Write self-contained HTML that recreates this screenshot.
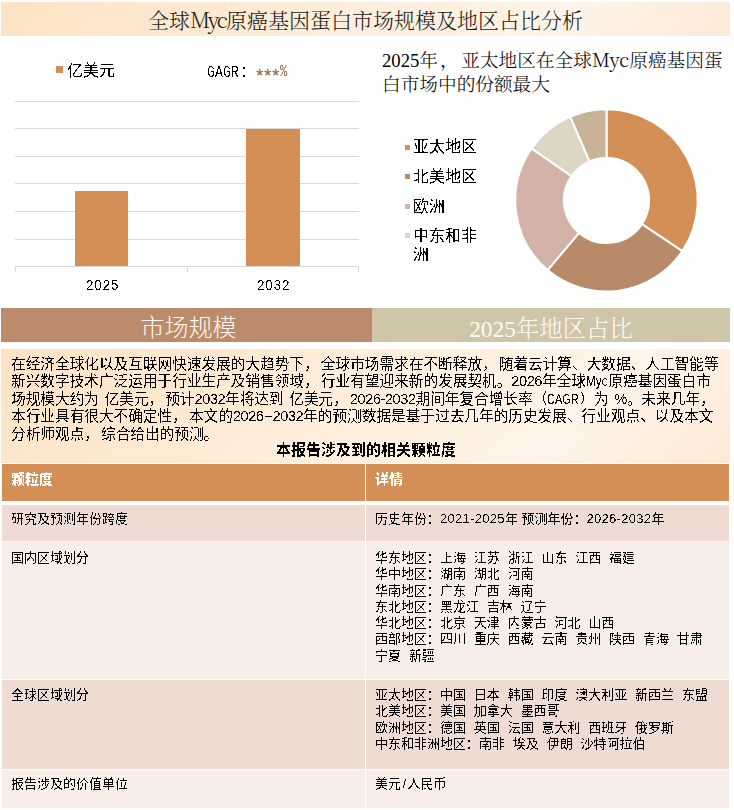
<!DOCTYPE html>
<html lang="zh-CN">
<head>
<meta charset="utf-8">
<title>全球Myc原癌基因蛋白市场规模及地区占比分析</title>
<style>
*{margin:0;padding:0;box-sizing:border-box}
html,body{width:734px;height:810px;overflow:hidden;background:#fff}
body{position:relative;font-family:"Liberation Sans","Noto Sans CJK SC",sans-serif;color:#000}
.abs{position:absolute;white-space:nowrap}
.serif{font-family:"Liberation Serif","Noto Serif CJK SC",serif;font-weight:300}
.sans{font-family:"Liberation Sans","Noto Sans CJK SC",sans-serif}
#title{left:1px;top:2px;width:729px;height:34px;background:linear-gradient(135deg,#fde3c4 0%,#fef4e9 76%,#fde9d7 100%)}
#title span{position:absolute;left:0;right:0;top:2px;text-align:center;font-size:21px;line-height:34px;color:#1a1a1a}
.grid{position:absolute;left:15px;width:344px;height:1px;background:#d9d9d9}
.bar{position:absolute;background:#d48f57}
.tick{position:absolute;top:266px;width:1px;height:6px;background:#d9d9d9}
.ax{top:275.5px;font-family:"Liberation Sans",sans-serif;font-size:15.5px;line-height:18px;letter-spacing:1.1px;transform:scaleX(.86);transform-origin:0 0;filter:url(#crisp)}
.lg{position:absolute;width:5px;height:5px}
.lt{filter:url(#crisp);position:absolute;left:413px;font-size:16px;line-height:19px;color:#000}
.sec{position:absolute;top:308px;height:34px;color:#fffaf2;text-align:center}
#para{position:absolute;left:1px;top:349px;width:729px;height:114px;background:linear-gradient(135deg,#fde3c4 0%,#fef4e9 76%,#fde9d7 100%)}
#para p{filter:url(#crisp);position:absolute;left:10px;top:7px;word-spacing:1.5px;font-family:"Liberation Sans","Noto Sans CJK SC",sans-serif;font-size:14.67px;line-height:17.4px;white-space:nowrap;color:#000}
.cm{letter-spacing:2px}
.n{letter-spacing:-0.5px}
.sq{display:inline-block;white-space:nowrap;vertical-align:top}
.sq>span{display:inline-block;transform-origin:0 0}
#cap{filter:url(#crisp);position:absolute;left:276px;top:440px;font-size:15px;font-weight:bold;line-height:20px}
.row{position:absolute;left:2px;width:727px}
.c1,.c2{position:absolute;top:0;bottom:0;filter:url(#crisp);font-size:13px;line-height:16.25px;white-space:pre}
.g{display:inline-block;width:7.8px}
.c1{left:0;width:363px;padding-left:9px}
.c2{left:364px;right:0;padding-left:9px}
</style>
</head>
<body>
<svg width="0" height="0" style="position:absolute"><filter id="crisp" x="0" y="0" width="100%" height="100%"><feComponentTransfer><feFuncA type="discrete" tableValues="0 1"/></feComponentTransfer></filter></svg>
<div id="title" class="abs"><span class="serif">全球<i style="font-style:normal;font-family:'Noto Serif CJK SC',serif;letter-spacing:-2px;line-height:1">Myc</i>原癌基因蛋白市场规模及地区占比分析</span></div>

<!-- bar chart -->
<div class="abs" style="left:56px;top:66px;width:7px;height:7px;background:#d48f57"></div>
<div class="abs sans" style="left:67px;top:60px;font-size:16px;line-height:22px;filter:url(#crisp)">亿美元</div>
<div class="abs" style="left:207px;top:63px;font-family:'Liberation Mono',monospace;font-size:16px;line-height:20px;transform:scaleX(.83);transform-origin:0 0;filter:url(#crisp)">GAGR</div>
<div class="abs sans" style="left:240px;top:61px;font-size:16px;line-height:22px;font-weight:300;filter:url(#crisp)">：</div>
<div class="abs sans" style="left:256px;top:63px;font-size:19px;line-height:20px;color:#8f5c33;letter-spacing:0.6px"><span style="position:relative;top:3px">***</span><span style="display:inline-block;font-family:'Liberation Mono',monospace;font-size:16px;transform:scaleX(.75);transform-origin:0 0;vertical-align:top;margin-top:-1px">%</span></div>

<div class="grid" style="top:101px"></div>
<div class="grid" style="top:128px"></div>
<div class="grid" style="top:156px"></div>
<div class="grid" style="top:183px"></div>
<div class="grid" style="top:211px"></div>
<div class="grid" style="top:239px"></div>
<div class="bar" style="left:75px;top:191px;width:53px;height:75px"></div>
<div class="bar" style="left:246px;top:129px;width:54px;height:137px"></div>
<div class="grid" style="top:266px"></div>
<div class="tick" style="left:15px"></div>
<div class="tick" style="left:187px"></div>
<div class="tick" style="left:358px"></div>
<div class="abs ax" style="left:86px">2025</div>
<div class="abs ax" style="left:257px">2032</div>

<!-- right chart -->
<div class="abs serif" style="left:382px;top:49px;font-size:18.67px;line-height:24px">2025年<span style="position:relative;left:2px">，</span> 亚太地区在全球<i style="font-style:normal;font-family:'Noto Serif CJK SC',serif;line-height:1">Myc</i>原癌基因蛋<br>白市场中的份额最大</div>

<div class="lg" style="left:405px;top:145px;background:#d48f57"></div>
<div class="lt" style="top:137px">亚太地区</div>
<div class="lg" style="left:405px;top:174px;background:#b98a69"></div>
<div class="lt" style="top:167px">北美地区</div>
<div class="lg" style="left:405px;top:204px;background:#d3b3a7"></div>
<div class="lt" style="top:197px">欧洲</div>
<div class="lg" style="left:405px;top:233px;background:#ded6c4"></div>
<div class="lt" style="top:226px">中东和非<br>洲</div>

<svg class="abs" style="left:0;top:0" width="734" height="810" viewBox="0 0 734 810">
<g stroke="#fff" stroke-width="2" stroke-linejoin="round">
<path fill="#d48f57" d="M606.50 109.20A91.2 91.2 0 0 1 682.29 251.13L641.90 224.10A42.6 42.6 0 0 0 606.50 157.80Z"/>
<path fill="#b98a69" d="M682.29 251.13A91.2 91.2 0 0 1 547.63 270.06L579.00 232.94A42.6 42.6 0 0 0 641.90 224.10Z"/>
<path fill="#d3b3a7" d="M547.63 270.06A91.2 91.2 0 0 1 531.61 148.35L571.52 176.09A42.6 42.6 0 0 0 579.00 232.94Z"/>
<path fill="#ded6c4" d="M531.61 148.35A91.2 91.2 0 0 1 570.28 116.70L589.58 161.30A42.6 42.6 0 0 0 571.52 176.09Z"/>
<path fill="#c8b397" d="M570.28 116.70A91.2 91.2 0 0 1 606.50 109.20L606.50 157.80A42.6 42.6 0 0 0 589.58 161.30Z"/>
</g>
</svg>

<!-- section headers -->
<div class="sec sans" style="left:1px;width:371px;background:#bb8b6b;font-size:24px;line-height:34px;padding-top:3px;padding-left:4px;font-weight:300">市场规模</div>
<div class="sec serif" style="left:372px;width:358px;background:#cfc5a9;font-size:23.4px;line-height:34px;padding-top:4px">2025年地区占比</div>

<div id="para"><p>在经济全球化以及互联网快速发展的大趋势下<span class="cm">，</span>全球市场需求在不断释放<span class="cm">，</span>随着云计算、大数据、人工智能等<br>新兴数字技术广泛运用于行业生产及销售领域<span class="cm">，</span>行业有望迎来新的发展契机。<span class="n">2026</span>年全球<span class="sq" style="width:22.5px"><span style="transform:scaleX(.8)">Myc</span></span>原癌基因蛋白市<br>场规模大约为 亿美元<span class="cm">，</span>预计<span class="n">2032</span>年将达到 亿美元<span class="cm">，</span><span class="n">2026-2032</span>期间年复合增长率（<span class="sq" style="width:32px"><span style="transform:scaleX(.75)">CAGR</span></span>）为 <span class="n">%</span>。未来几年<span class="cm">，</span><br>本行业具有很大不确定性<span class="cm">，</span>本文的<span class="n">2026</span><span class="sq" style="width:9px"><span style="transform:scaleX(1.9)">-</span></span><span class="n">2032</span>年的预测数据是基于过去几年的历史发展、行业观点、以及本文<br>分析师观点<span class="cm">，</span>综合给出的预测。</p></div>
<div id="cap">本报告涉及到的相关颗粒度</div>

<!-- table -->
<div class="row" style="top:464px;height:37px;background:#d48f57;color:#fff;font-weight:bold">
 <div class="c1" style="padding-top:7px;font-size:14px">颗粒度</div><div class="c2" style="padding-top:7px;font-size:14px">详情</div>
</div>
<div class="row" style="top:505px;height:36px;background:#eedbd1">
 <div class="c1" style="padding-top:6px">研究及预测年份跨度</div><div class="c2" style="padding-top:6px">历史年份：<span style="letter-spacing:.3px">2021-2025</span>年 预测年份：<span style="letter-spacing:.3px">2026-2032</span>年</div>
</div>
<div class="row" style="top:541px;height:138px;background:#f7eeea;border-top:1px solid #fbf6f3">
 <div class="c1" style="padding-top:8px">国内区域划分</div><div class="c2" style="padding-top:8px">华东地区：上海<b class="g"></b>江苏<b class="g"></b>浙江<b class="g"></b>山东<b class="g"></b>江西<b class="g"></b>福建<br>华中地区：湖南<b class="g"></b>湖北<b class="g"></b>河南<br>华南地区：广东<b class="g"></b>广西<b class="g"></b>海南<br>东北地区：黑龙江<b class="g"></b>吉林<b class="g"></b>辽宁<br>华北地区：北京<b class="g"></b>天津<b class="g"></b>内蒙古<b class="g"></b>河北<b class="g"></b>山西<br>西部地区：四川<b class="g"></b>重庆<b class="g"></b>西藏<b class="g"></b>云南<b class="g"></b>贵州<b class="g"></b>陕西<b class="g"></b>青海<b class="g"></b>甘肃<br>宁夏<b class="g"></b>新疆</div>
</div>
<div class="row" style="top:680px;height:89px;background:#eedbd1">
 <div class="c1" style="padding-top:7px">全球区域划分</div><div class="c2" style="padding-top:7px">亚太地区：中国<b class="g"></b>日本<b class="g"></b>韩国<b class="g"></b>印度<b class="g"></b>澳大利亚<b class="g"></b>新西兰<b class="g"></b>东盟<br>北美地区：美国<b class="g"></b>加拿大<b class="g"></b>墨西哥<br>欧洲地区：德国<b class="g"></b>英国<b class="g"></b>法国<b class="g"></b>意大利<b class="g"></b>西班牙<b class="g"></b>俄罗斯<br>中东和非洲地区：南非<b class="g"></b>埃及<b class="g"></b>伊朗<b class="g"></b>沙特阿拉伯</div>
</div>
<div class="row" style="top:770px;height:38px;background:#f7eeea">
 <div class="c1" style="padding-top:6px">报告涉及的价值单位</div><div class="c2" style="padding-top:6px">美元<span style="display:inline-block;width:6.5px;text-align:center">/</span>人民币</div>
</div>
<div class="abs" style="left:365px;top:464px;width:1px;height:344px;background:#fff"></div>
</body>
</html>
